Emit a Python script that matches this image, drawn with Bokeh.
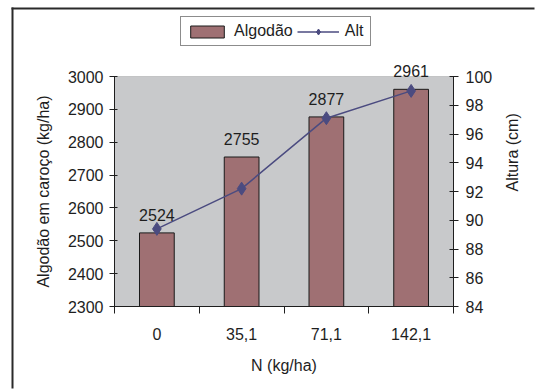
import math
from bokeh.plotting import figure
from bokeh.core.properties import value
from bokeh.models import (Range1d, LinearAxis, FixedTicker, SingleIntervalTicker,
                          ColumnDataSource, LabelSet, Label, Legend, LegendItem, BoxAnnotation)
from bokeh.embed import file_html
from bokeh.resources import INLINE

categories = ["0", "35,1", "71,1", "142,1"]
algodao = [2524, 2755, 2877, 2961]
alt = [89.4, 92.2, 97.1, 99.0]
y_left = (2300, 3000)
y_right = (84, 100)

# layout (pixels)
W, H = 535, 389
PL, PR, PT, PB = 114, 453, 76, 306

FONT = "Liberation Sans"
FS = "16px"
TXT = "#1e1e1e"

n = len(categories)
ppx = (PR - PL) / n
x_rng = Range1d(-PL / ppx, n + (W - PR) / ppx)

def vrange(lo, hi):
    ppy = (PB - PT) / (hi - lo)
    return Range1d(lo - (H - PB) / ppy, hi + PT / ppy)

y_rng = vrange(*y_left)

def px_x(px):
    return x_rng.start + px / W * (x_rng.end - x_rng.start)

def px_y(py):
    return y_rng.end - py / H * (y_rng.end - y_rng.start)

xs = [i + 0.5 for i in range(n)]
src = ColumnDataSource(dict(x=xs, algodao=algodao, alt=alt,
                            lbl=[str(v) for v in algodao]))

p = figure(width=W, height=H, output_backend="svg", toolbar_location=None,
           x_range=x_rng, y_range=y_rng, min_border=0)
p.extra_y_ranges = {"alt": vrange(*y_right)}
p.background_fill_color = "white"
p.border_fill_color = "white"
p.outline_line_color = None
p.grid.visible = False

# plot area
area = BoxAnnotation(left=0, right=n, bottom=y_left[0], top=y_left[1],
                     fill_color="#C8C9CB", fill_alpha=1, line_color="#7a7a7a",
                     line_width=1, level="underlay")
p.add_layout(area)

bars = p.vbar(x="x", top="algodao", bottom=y_left[0], width=0.41, source=src,
              fill_color="#9F7073", line_color="#1a1a1a", line_width=1)
line = p.line(x="x", y="alt", source=src, y_range_name="alt",
              line_color="#4B4B80", line_width=1.5)
marks = p.scatter(x="x", y="alt", source=src, y_range_name="alt", marker="diamond",
                  size=13, fill_color="#4B4B80", line_color="#4B4B80")

labels = LabelSet(x="x", y="algodao", text="lbl", source=src, y_offset=12,
                  text_align="center", text_baseline="alphabetic",
                  text_font=value(FONT), text_font_size=value(FS), text_color=TXT)
p.add_layout(labels)

def style_axis(ax):
    ax.axis_line_color = TXT
    ax.major_tick_line_color = TXT
    ax.minor_tick_line_color = TXT
    ax.major_label_text_font = FONT
    ax.major_label_text_font_size = FS
    ax.major_label_text_color = TXT
    ax.axis_label_text_font = FONT
    ax.axis_label_text_font_size = FS
    ax.axis_label_text_font_style = "normal"
    ax.axis_label_text_color = TXT

# bottom axis
xa = p.xaxis[0]
xa.fixed_location = y_left[0]
xa.bounds = (0, n)
xa.ticker = FixedTicker(ticks=xs, minor_ticks=list(range(n + 1)))
xa.major_label_overrides = {x: c for x, c in zip(xs, categories)}
xa.major_tick_out = 0
xa.major_tick_in = 0
xa.minor_tick_out = 7
xa.minor_tick_in = 0
xa.major_label_standoff = 14
xa.axis_label = "N (kg/ha)"
xa.axis_label_standoff = 14
style_axis(xa)

# left axis
ya = p.yaxis[0]
ya.fixed_location = 0
ya.bounds = y_left
ya.ticker = SingleIntervalTicker(interval=100, num_minor_ticks=0)
ya.major_tick_out = 5
ya.major_tick_in = 3
ya.minor_tick_out = 0
ya.minor_tick_in = 0
ya.major_label_standoff = 6
ya.axis_label = "Algodão em caroço (kg/ha)"
ya.axis_label_standoff = 13
style_axis(ya)

# right axis
ra = LinearAxis(y_range_name="alt", ticker=SingleIntervalTicker(interval=2, num_minor_ticks=0))
ra.fixed_location = n
ra.bounds = y_right
ra.major_tick_out = 5
ra.major_tick_in = 4
ra.minor_tick_out = 0
ra.minor_tick_in = 0
ra.major_label_standoff = 7
ra.axis_label_standoff = 17
style_axis(ra)
try:
    ra.axis_label_orientation = math.pi / 2
    ra.axis_label = "Altura (cm)"
except Exception:
    p.add_layout(Label(x=513, y=H - (PT + PB) / 2, x_units="screen", y_units="screen",
                       text="Altura (cm)", angle=math.pi / 2, text_align="center",
                       text_baseline="middle", text_font=FONT, text_font_size=FS,
                       text_color=TXT))
p.add_layout(ra, "right")

legend = Legend(items=[LegendItem(label="Algodão", renderers=[bars]),
                       LegendItem(label="Alt", renderers=[line, marks])],
                orientation="horizontal", location=(180, H - 46),
                glyph_width=42, glyph_height=15, label_standoff=6, spacing=4,
                padding=5, margin=0,
                label_text_font=FONT, label_text_font_size=FS, label_text_color=TXT,
                border_line_color="#1a1a1a", border_line_width=1.5,
                background_fill_color="white", background_fill_alpha=1)
p.add_layout(legend, "center")

# outer chart border (only its left and top edges fall inside the picture)
for l, r, t, b in [(11, 13, 7, H - 1), (11, W - 1, 7, 9)]:
    p.add_layout(BoxAnnotation(left=px_x(l), right=px_x(r), top=px_y(t), bottom=px_y(b),
                               fill_color="#2a2a2a", fill_alpha=1, line_color=None))

open("out.html", "w").write(file_html(p, INLINE))
